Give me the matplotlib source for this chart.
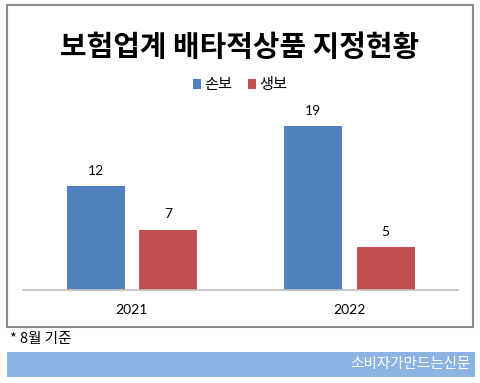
import numpy as np
import matplotlib.pyplot as plt
from matplotlib.patches import Rectangle

plt.rcParams['font.family'] = ['Noto Sans CJK KR', 'DejaVu Sans']

# 데이터
years = ['2021', '2022']
sonbo = [12, 19]   # 손보
saengbo = [7, 5]   # 생보
series_names = ['손보', '생보']

W, H = 480, 383
fig = plt.figure(figsize=(W / 100, H / 100), dpi=100)

# 바깥 테두리
fig.patches.append(Rectangle((7 / W, 1 - 327 / H), 466 / W, 322 / H,
                             transform=fig.transFigure, fill=False,
                             edgecolor='#8c8c8c', linewidth=1.5))
# 하단 띠
fig.patches.append(Rectangle((7 / W, 1 - 377 / H), 468 / W, 25 / H,
                             transform=fig.transFigure, facecolor='#8db3e2',
                             edgecolor='none'))

ax = fig.add_axes([23 / W, 1 - 290 / H, 435 / W, 190 / H])
x = np.arange(len(years))
bw = 0.267
b1 = ax.bar(x - 0.165, sonbo, bw, color='#4f81bd', label=series_names[0])
b2 = ax.bar(x + 0.167, saengbo, bw, color='#c0504d', label=series_names[1])

for bars, vals in ((b1, sonbo), (b2, saengbo)):
    for r, v in zip(bars, vals):
        ax.annotate(str(v), (r.get_x() + r.get_width() / 2, v),
                    xytext=(0, 11), textcoords='offset points',
                    ha='center', va='center', fontsize=10, family='Lato')

ax.set_xlim(-0.5, 1.5)
ax.set_ylim(0, 22.0)
ax.set_xticks(x)
ax.set_xticklabels(years, family='Lato', fontsize=10)
ax.tick_params(axis='x', length=0, pad=10)
ax.set_yticks([])
for s in ('left', 'right', 'top'):
    ax.spines[s].set_visible(False)
ax.spines['bottom'].set_color('#bfbfbf')
ax.spines['bottom'].set_linewidth(1.2)

fig.text(0.5, 1 - 47 / H, '보험업계 배타적상품 지정현황', ha='center', va='center',
         fontsize=20.8, fontweight='bold')
fig.legend(loc='center', bbox_to_anchor=(0.5, 1 - 85 / H), ncol=2, frameon=False,
           fontsize=11, handlelength=0.55, handleheight=0.55, handletextpad=0.2,
           columnspacing=1.0)

fig.text(10 / W, 1 - 339 / H, '* 8월 기준', ha='left', va='center', fontsize=10.5)
fig.text(471 / W, 1 - 364 / H, '소비자가만드는신문', ha='right', va='center',
         fontsize=10.5, color='white')

fig.savefig('out.png', dpi=100)
